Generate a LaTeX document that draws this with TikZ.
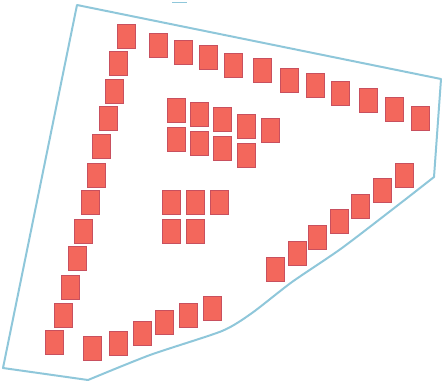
\documentclass[tikz,border=0pt]{standalone}
\usetikzlibrary{calc}
\definecolor{tilefill}{HTML}{F3675C}
\definecolor{tileedge}{HTML}{C8505E}
\definecolor{outline}{HTML}{8FC7DA}
\begin{document}
\begin{tikzpicture}[x=1pt,y=-1pt,
  tile/.style={rectangle, minimum width=18.5pt, minimum height=24pt, inner sep=0pt,
    fill=tilefill, draw=tileedge, line width=0.5pt},
  border/.style={draw=outline, line width=2pt, line join=round}]
\useasboundingbox (0,0) rectangle (444,383);
% site outline
\path[border] (77,5) -- (441,79) -- (434,177)
  -- plot[smooth, tension=0.4] coordinates {(434,177) (402,202) (342,248) (292,282) (252,313) (222,331) (150,355) (88,380)}
  -- (3,368) -- cycle;
\coordinate (m1) at (172,2);
\coordinate (m2) at (187,2);
\draw[outline, line width=1pt] (m1) -- (m2);
% left column
\foreach \x/\y [count=\i] in {126/36,118/63,114/91,108/118,101/146,96/175,90/202,83/231,77/258,70/287,63/315,54/342}
  \node[tile] (l\i) at (\x,\y) {};
% top row
\foreach \x/\y [count=\i] in {158/45,183/52,208/57,233/65,262/70,289/80,315/85,340/93,368/100,394/109,420/118}
  \node[tile] (t\i) at (\x,\y) {};
% right diagonal
\foreach \x/\y [count=\i] in {404/175,382/190,360/206,339/221,317/237,297/253,275/269}
  \node[tile] (r\i) at (\x,\y) {};
% bottom row
\foreach \x/\y [count=\i] in {92/348,118/343,142/333,164/322,188/315,212/308}
  \node[tile] (b\i) at (\x,\y) {};
% upper inner cluster
\foreach \x/\y [count=\i] in {176/110,199/114,222/119,246/126,270/130,176/139,199/143,222/148,246/155}
  \node[tile] (u\i) at (\x,\y) {};
% lower inner cluster
\foreach \x/\y [count=\i] in {171/202,195/202,219/202,171/231,195/231}
  \node[tile] (c\i) at (\x,\y) {};
\end{tikzpicture}
\end{document}
